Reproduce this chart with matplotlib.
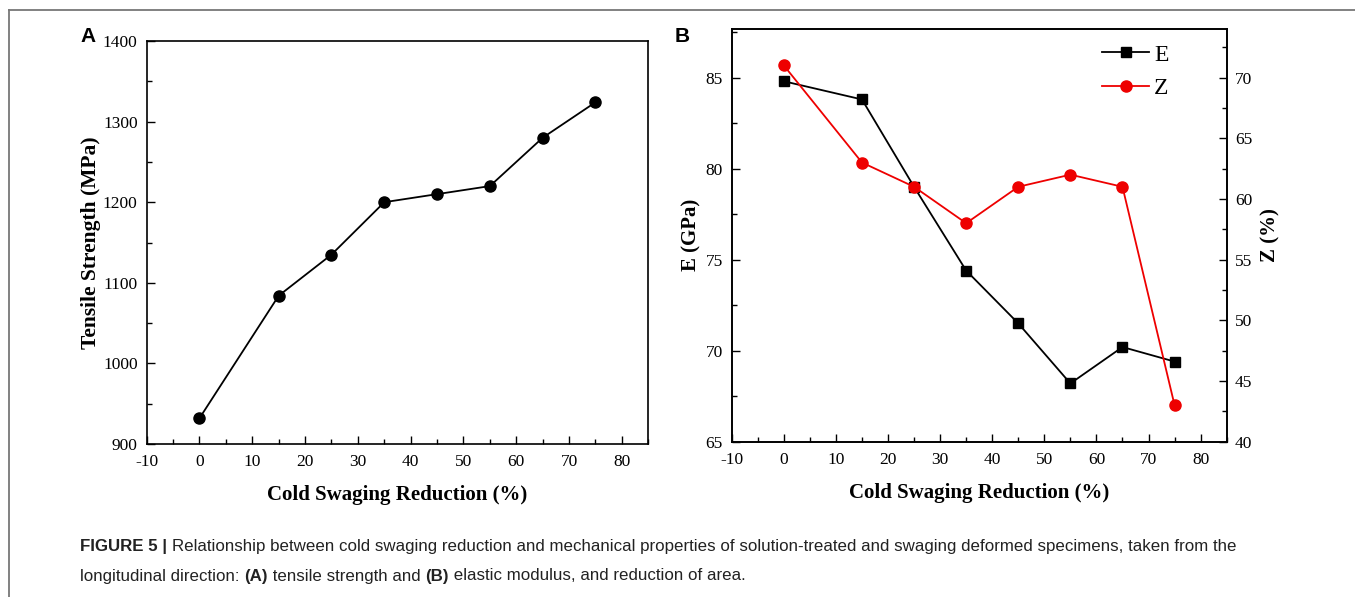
import matplotlib
matplotlib.use("Agg")
import matplotlib.pyplot as plt
from matplotlib.lines import Line2D
from matplotlib.ticker import MultipleLocator

plt.rcParams["axes.unicode_minus"] = False

# ---- data ----
reduction = [0, 15, 25, 35, 45, 55, 65, 75]
tensile = [932, 1084, 1135, 1200, 1210, 1220, 1280, 1324]
modulus_E = [84.8, 83.8, 79.0, 74.4, 71.5, 68.2, 70.2, 69.4]
area_Z = [71, 63, 61, 58, 61, 62, 61, 43]

xlabel = "Cold Swaging Reduction (%)"
ylabel_A = "Tensile Strength (MPa)"
ylabel_E = "E (GPa)"
ylabel_Z = "Z (%)"

serif = ["Liberation Serif", "DejaVu Serif"]
sans = ["Liberation Sans", "DejaVu Sans"]

W, H = 1355, 597
fig = plt.figure(figsize=(W / 100, H / 100), dpi=100)

TICK_FS = 12.5
LABEL_FS = 15


def style_ticks(ax):
    ax.tick_params(axis="both", which="both", direction="in", top=False,
                   right=False, labelsize=TICK_FS)
    ax.tick_params(axis="x", pad=7.5)
    ax.tick_params(axis="y", pad=6.5)
    ax.tick_params(which="major", length=6, width=1)
    ax.tick_params(which="minor", length=3.5, width=1)
    for lab in ax.get_xticklabels() + ax.get_yticklabels():
        lab.set_family(serif)
    for s in ax.spines.values():
        s.set_linewidth(1.2)


# ---- Panel A ----
axA = fig.add_axes([146.7 / W, 1 - 444 / H, 501.6 / W, 403 / H])
axA.plot(reduction, tensile, color="black", lw=1.3, marker="o", ms=8)
axA.set_xlim(-10, 85)
axA.set_ylim(900, 1400)
axA.xaxis.set_major_locator(MultipleLocator(10))
axA.xaxis.set_minor_locator(MultipleLocator(5))
axA.yaxis.set_major_locator(MultipleLocator(100))
axA.yaxis.set_minor_locator(MultipleLocator(50))
style_ticks(axA)
axA.set_xlabel(xlabel, family=serif, fontsize=LABEL_FS, fontweight="bold", labelpad=10.5)
axA.set_ylabel(ylabel_A, family=serif, fontsize=15.5, fontweight="bold", labelpad=1.5)

# ---- Panel B ----
axB = fig.add_axes([731.7 / W, 1 - 441.7 / H, 495 / W, 412.7 / H])
lE, = axB.plot(reduction, modulus_E, color="black", lw=1.3, marker="s", ms=7, label="E")
axB.set_xlim(-10, 85)
axB.set_ylim(65, 87.67)
axB.xaxis.set_major_locator(MultipleLocator(10))
axB.xaxis.set_minor_locator(MultipleLocator(5))
axB.yaxis.set_major_locator(MultipleLocator(5))
axB.yaxis.set_minor_locator(MultipleLocator(2.5))
style_ticks(axB)
axB.set_xlabel(xlabel, family=serif, fontsize=LABEL_FS, fontweight="bold", labelpad=10.5)
axB.set_ylabel(ylabel_E, family=serif, fontsize=LABEL_FS, fontweight="bold", labelpad=2.5)

axZ = axB.twinx()
lZ, = axZ.plot(reduction, area_Z, color="#ee0000", lw=1.3, marker="o", ms=8, label="Z")
axZ.set_ylim(40, 74)
axZ.yaxis.set_major_locator(MultipleLocator(5))
axZ.yaxis.set_minor_locator(MultipleLocator(2.5))
axZ.tick_params(axis="y", which="both", direction="in", labelsize=TICK_FS, pad=6)
axZ.tick_params(which="major", length=6, width=1)
axZ.tick_params(which="minor", length=3.5, width=1)
for lab in axZ.get_yticklabels():
    lab.set_family(serif)
for s in axZ.spines.values():
    s.set_linewidth(1.2)
axZ.set_ylabel(ylabel_Z, family=serif, fontsize=LABEL_FS, fontweight="bold",
               rotation=90, labelpad=5.5)

leg = axZ.legend(handles=[lE, lZ], loc="upper left",
                 bbox_to_anchor=((1102 - 731.7) / 495, (441.7 - 44) / 412.7),
                 frameon=False, prop={"family": serif, "size": 17},
                 handlelength=2.0, handletextpad=0.2, labelspacing=0.5,
                 borderpad=0, borderaxespad=0)

# panel letters
fig.text(88 / W, 1 - 37 / H, "A", family=sans, fontsize=15, fontweight="bold",
         ha="center", va="center")
fig.text(682 / W, 1 - 36 / H, "B", family=sans, fontsize=15, fontweight="bold",
         ha="center", va="center")

# caption
cap_size = 12.15
cap_col = "#222222"
fig.canvas.draw()
r = fig.canvas.get_renderer()


def run_text(x, y, parts):
    for txt, w in parts:
        tt = fig.text(x / W, 1 - y / H, txt, family=sans, fontsize=cap_size,
                      fontweight=w, ha="left", va="center", color=cap_col)
        x = tt.get_window_extent(r).x1


run_text(80, 546, [("FIGURE 5 | ", "bold"),
                   ("Relationship between cold swaging reduction and mechanical properties of solution-treated and swaging deformed specimens, taken from the", "normal")])
run_text(80, 576, [("longitudinal direction: ", "normal"), ("(A)", "bold"),
                   (" tensile strength and ", "normal"), ("(B)", "bold"),
                   (" elastic modulus, and reduction of area.", "normal")])

# border lines
fig.add_artist(Line2D([8.5 / W, 1.0], [1 - 9.5 / H, 1 - 9.5 / H],
                      color="#777777", lw=1.3, transform=fig.transFigure))
fig.add_artist(Line2D([8.5 / W, 8.5 / W], [1 - 9.5 / H, 0.0],
                      color="#777777", lw=1.3, transform=fig.transFigure))

fig.savefig("out.png", dpi=100)
